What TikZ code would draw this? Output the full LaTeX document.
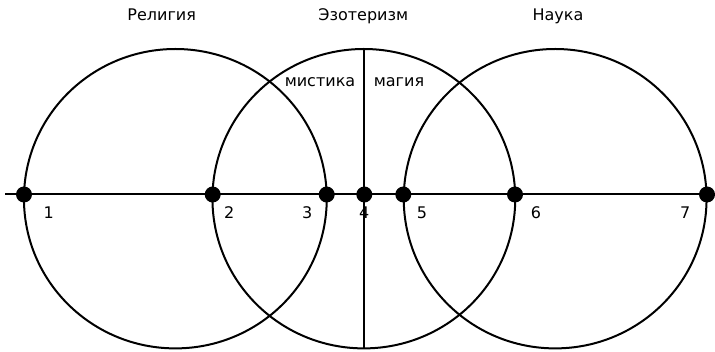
\documentclass[tikz,border=0pt]{standalone}
\usepackage{fontspec}
\setmainfont{DejaVu Sans}
\usetikzlibrary{positioning}

\begin{document}
\begin{tikzpicture}[x=1pt,y=-1pt,line width=2pt,
   dot/.style={circle,fill=black,inner sep=0pt,minimum size=16pt},
   num/.style={anchor=base,font=\fontsize{16}{20}\selectfont},
   ttl/.style={anchor=base,font=\fontsize{16}{20}\selectfont}]
  \useasboundingbox (0,0) rectangle (715,352);
  % three circles
  \foreach \cx in {175.35,363.85,555.15}{\draw (\cx,198.7) ellipse [x radius=151.4,y radius=149.7];}
  % axes
  \coordinate (hl) at (5,194.5); \coordinate (hr) at (715,194.5);
  \coordinate (vt) at (364.3,49); \coordinate (vb) at (364.3,348.4);
  \draw (hl) -- (hr);
  \draw (vt) -- (vb);
  % points and numbers
  \foreach \n/\x/\lx in {1/24/48.8,2/212.7/229.3,3/326.7/307.3,4/364.3/364.3,5/403.3/422,6/515/536,7/707/685.3}{
    \node[dot] (p\n) at (\x,194.5) {};
    \node[num] (l\n) at (\lx,218.7) {\n};}
  % titles
  \node[ttl] (rel) at (161.7,20.7) {Религия};
  \node[ttl] (eso) at (363.3,20.7) {Эзотеризм};
  \node[ttl] (sci) at (558,20.7) {Наука};
  \node[ttl] (mys) at (320,87) {мистика};
  \node[ttl] (mag) at (399,87) {магия};
\end{tikzpicture}
\end{document}
